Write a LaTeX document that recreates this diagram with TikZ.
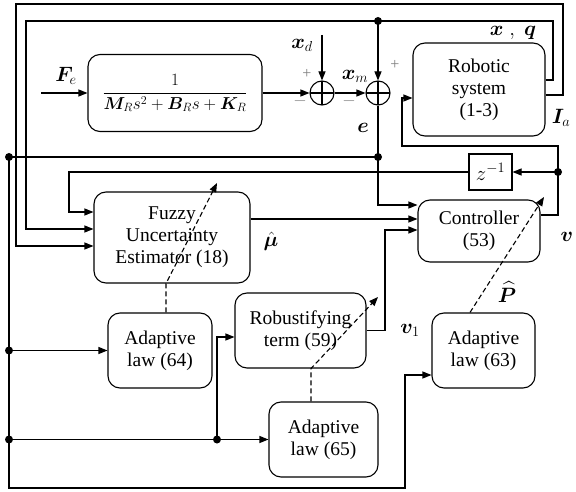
\documentclass[tikz,border=0pt]{standalone}
\usepackage{amsmath}
\usepackage{bm}
\usepackage{fontspec}
\setmainfont{Liberation Serif}
\usetikzlibrary{arrows.meta}
\begin{document}
\begin{tikzpicture}[x=1pt,y=-1pt, line width=1.1pt,
 blk/.style={draw, rounded corners=12pt, align=center, inner sep=0pt, font=\rmfamily\fontsize{19.5}{22}\selectfont},
 arr/.style={-{Triangle[length=9pt,width=7pt]}},
 dasharr/.style={dash pattern=on 5pt off 3pt, -{Triangle[length=9pt,width=7pt]}},
 sumn/.style={circle, draw, minimum size=24pt, inner sep=0pt,
   path picture={\draw (path picture bounding box.north) -- (path picture bounding box.south)
     (path picture bounding box.west) -- (path picture bounding box.east);}},
 lbl/.style={font=\fontsize{22}{24}\selectfont, inner sep=0pt},
 sgn/.style={font=\fontsize{16}{16}\selectfont, text=gray, inner sep=0pt}
]
\useasboundingbox (0,0) rectangle (576,492);
% blocks
\node[blk, minimum width=174pt, minimum height=77pt, font=\fontsize{18.5}{22}\selectfont] (tf) at (175,93) {$\dfrac{1}{\bm{M}_R s^2+\bm{B}_R s+\bm{K}_R}$};
\node[blk, minimum width=132pt, minimum height=93pt] (rob) at (479,89.5) {Robotic\\system\\(1-3)};
\node[blk, minimum width=156pt, minimum height=91pt] (fuz) at (172,237.5) {Fuzzy\\Uncertainty\\Estimator (18)};
\node[blk, minimum width=122pt, minimum height=62pt] (ctl) at (479,231) {Controller\\(53)};
\node[draw, minimum width=43pt, minimum height=36pt, inner sep=0pt, font=\fontsize{20}{22}\selectfont] (zinv) at (490.5,172) {$z^{-1}$};
\node[blk, minimum width=104pt, minimum height=75pt] (ad64) at (160,350.5) {Adaptive\\law (64)};
\node[blk, minimum width=131pt, minimum height=75pt] (rob59) at (300.5,330.5) {Robustifying\\term (59)};
\node[blk, minimum width=109pt, minimum height=75pt] (ad65) at (323.5,439.5) {Adaptive\\law (65)};
\node[blk, minimum width=103pt, minimum height=75pt] (ad63) at (483.5,350.5) {Adaptive\\law (63)};
\node[sumn] (s1) at (322,93) {};
\node[sumn] (s2) at (378,93) {};
% junctions
\coordinate (fe) at (41,93);
\coordinate (xd) at (322,35);
\coordinate (jxq) at (378,21);
\coordinate (je) at (378,157);
\coordinate (jl) at (9,157);
\coordinate (j64) at (9,350.5);
\coordinate (j65) at (9,439.5);
\coordinate (jm) at (217,439.5);
\coordinate (jv) at (558,172);
% connectors
\draw[arr] (fe) -- (tf.west);
\draw[arr] (tf.east) -- (s1.west);
\draw[arr] (s1.east) -- (s2.west);
\draw[arr] (xd) -- (s1.north);
\draw[arr] (jxq) -- (s2.north);
\draw[arr] ([yshift=9.5pt]rob.east) -| (553,21) -| (26,229) -- ([yshift=8.5pt]fuz.west);
\draw[arr] ([yshift=-5.5pt]rob.east) -| (563,4) -| (16,246) -- ([yshift=-8.5pt]fuz.west);
\draw (s2.south) -- (je);
\draw[arr] (je) |- ([yshift=26pt]ctl.west);
\draw[arr] (je) -- (jl) -- (9,488) -| (405,375) -- ([yshift=-24.5pt]ad63.west);
\draw[arr] (j64) -- (ad64.west);
\draw[arr] (j65) -- (ad65.west);
\draw[arr] (jm) |- ([yshift=-6.5pt]rob59.west);
\draw[arr] (jv) |- (402,146) |- ([yshift=-8.5pt]rob.west);
\draw[arr] (jv) -- (zinv.east);
\draw ([yshift=16pt]ctl.east) -| (jv);
\draw[arr] (zinv.west) -- (69,172) |- ([yshift=25.5pt]fuz.west);
\draw[arr] ([yshift=18.5pt]fuz.east) -- ([yshift=12pt]ctl.west);
\draw[arr] (rob59.east) -- (385,330.5) |- ([yshift=1pt]ctl.west);
\draw[dasharr] ([xshift=6pt]ad64.north) -- ([xshift=-6pt]fuz.south) -- (217,183);
\draw[dasharr] ([xshift=-12.5pt]ad65.north) -- ([xshift=10.5pt]rob59.south) -- (378,297);
\draw[dasharr] ([xshift=-13.5pt]ad63.north) -- (544,197);
\foreach \p in {jxq,je,jl,j64,j65,jm,jv} \fill (\p) circle (4pt);
% labels
\node[lbl] (lfe) at (66,76) {$\bm{F}_e$};
\node[lbl] (lxd) at (302,45) {$\bm{x}_d$};
\node[lbl] (lxm) at (355,76) {$\bm{x}_m$};
\node[lbl] (le) at (363,128) {$\bm{e}$};
\node[lbl] (lxq) at (513,33) {$\bm{x}\;,\;\bm{q}$};
\node[lbl] (lia) at (561,118) {$\bm{I}_a$};
\node[lbl] (lmu) at (271,241) {$\hat{\bm{\mu}}$};
\node[lbl] (lv) at (567,237) {$\bm{v}$};
\node[lbl] (lv1) at (410,330) {$\bm{v}_1$};
\node[lbl] (lp) at (507,292) {$\widehat{\bm{P}}$};
\node[sgn] (p1) at (307,74) {+};
\node[sgn] (m1) at (300,101) {$-$};
\node[sgn] (m2) at (349,101) {$-$};
\node[sgn] (p2) at (395,65) {+};
\end{tikzpicture}
\end{document}
